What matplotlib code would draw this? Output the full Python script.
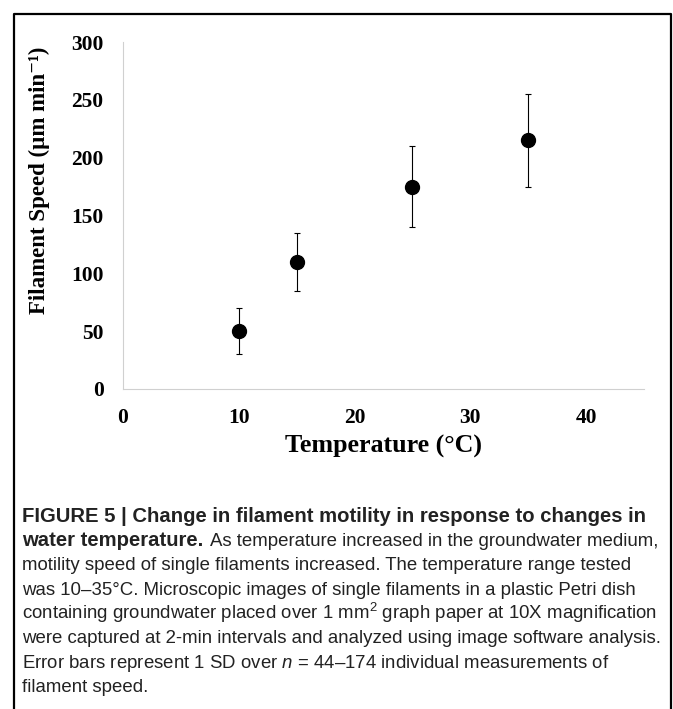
import matplotlib
matplotlib.use("Agg")
import matplotlib.pyplot as plt
from matplotlib.lines import Line2D

# data
temps = [10, 15, 25, 35]
speed = [50, 110, 175, 215]
speed_sd = [20, 25, 35, 40]
x_ticks = [0, 10, 20, 30, 40]
y_ticks = [0, 50, 100, 150, 200, 250, 300]

title_bold = "FIGURE 5 | Change in filament motility in response to changes in"
line2_bold = "water temperature."
caption = [
    "As temperature increased in the groundwater medium,",
    "motility speed of single filaments increased. The temperature range tested",
    "was 10\u201335\u00b0C. Microscopic images of single filaments in a plastic Petri dish",
    "containing groundwater placed over 1 mm$^{2}$ graph paper at 10X magnification",
    "were captured at 2-min intervals and analyzed using image software analysis.",
    "Error bars represent 1 SD over $\\mathit{n}$ = 44\u2013174 individual measurements of",
    "filament speed.",
]

plt.rcParams['mathtext.fontset'] = 'custom'
plt.rcParams['mathtext.rm'] = 'Liberation Sans'
plt.rcParams['mathtext.it'] = 'Liberation Sans:italic'
plt.rcParams['mathtext.bf'] = 'Liberation Sans:bold'
plt.rcParams['mathtext.default'] = 'regular'

W, H = 673, 709
fig = plt.figure(figsize=(W / 100, H / 100), dpi=100)

# axes box in pixels (left, top, right, bottom)
l, t, r, b = 123, 42, 644, 389
ax = fig.add_axes([l / W, 1 - b / H, (r - l) / W, (b - t) / H])

ax.errorbar(temps, speed, yerr=speed_sd, fmt='o', color='black',
            markersize=10, ecolor='black', elinewidth=0.8, capsize=2,
            capthick=0.8)

ax.set_xlim(0, 45)
ax.set_ylim(0, 300)
ax.set_xticks(x_ticks)
ax.set_yticks(y_ticks)

serif = ['Liberation Serif', 'DejaVu Serif']
for lab in ax.get_xticklabels() + ax.get_yticklabels():
    lab.set_family(serif)
    lab.set_fontweight('bold')
    lab.set_fontsize(15.5)
ax.tick_params(axis='both', length=0)
ax.tick_params(axis='y', pad=14)
ax.tick_params(axis='x', pad=13.5)

for s in ['top', 'right']:
    ax.spines[s].set_visible(False)
for s in ['left', 'bottom']:
    ax.spines[s].set_color('#d0d0d0')
    ax.spines[s].set_linewidth(0.8)

ax.set_xlabel("Temperature (\u00b0C)", family=serif, fontweight='bold',
              fontsize=18.7)
ax.xaxis.set_label_coords(0.5, -0.1315)
ax.set_ylabel("Filament Speed (\u00b5m min\u207b\u00b9)", family=serif,
              fontweight='bold', fontsize=16.5)
ax.yaxis.set_label_coords(-0.14, 0.6)

# frame around the figure panel (open at the bottom)
bx0, by0, bx1 = 14 / W, 1 - 14 / H, 671 / W
fig.add_artist(Line2D([bx0, bx0, bx1, bx1], [0, by0, by0, 0],
                      transform=fig.transFigure, color='black', lw=1.6))

# caption
y0, dy, x0 = 521.7, 24.3, 22
cap_kw = dict(family='Liberation Sans', color='#222222', va='baseline',
              ha='left')
fig.text(x0 / W, 1 - y0 / H, title_bold, fontsize=14.6, fontweight='bold',
         **cap_kw)
tb = fig.text(x0 / W, 1 - (y0 + dy) / H, line2_bold, fontsize=14.6,
              fontweight='bold', **cap_kw)
fig.canvas.draw()
x_after = tb.get_window_extent().x1 + 7
for i, line in enumerate(caption):
    xx = x_after if i == 0 else x0
    fig.text(xx / W, 1 - (y0 + (i + 1) * dy) / H, line, fontsize=13.45,
             **cap_kw)

fig.savefig('out.png', dpi=100)
